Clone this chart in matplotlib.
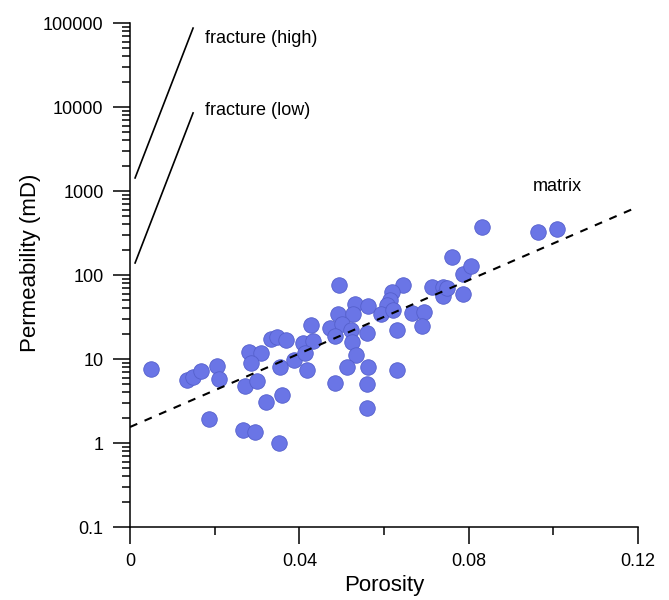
import matplotlib

matplotlib.use("Agg")
import matplotlib.pyplot as plt
from matplotlib.ticker import FixedLocator, LogLocator, NullFormatter

# porosity / permeability samples
porosity = [
    0.0050, 0.0135, 0.0149, 0.0168, 0.0206, 0.0210, 0.0187, 0.0272, 0.0300,
    0.0281, 0.0309, 0.0286, 0.0321, 0.0359, 0.0267, 0.0295, 0.0352, 0.0333,
    0.0347, 0.0369, 0.0354, 0.0387, 0.0409, 0.0432, 0.0428, 0.0413, 0.0418,
    0.0494, 0.0532, 0.0562, 0.0491, 0.0527, 0.0472, 0.0501, 0.0484, 0.0522,
    0.0560, 0.0524, 0.0534, 0.0513, 0.0562, 0.0484, 0.0560, 0.0560, 0.0631,
    0.0631, 0.0645, 0.0619, 0.0614, 0.0607, 0.0593, 0.0621, 0.0666, 0.0695,
    0.0690, 0.0713, 0.0739, 0.0739, 0.0787, 0.0787, 0.0832, 0.0964, 0.1009,
    0.0761, 0.0806, 0.0749,
]
permeability = [
    7.6, 5.6, 6.1, 7.2, 8.3, 5.8, 1.93, 4.8, 5.5,
    12.1, 11.8, 9.0, 3.1, 3.7, 1.43, 1.35, 1.0, 17.3,
    18.3, 16.8, 8.0, 9.7, 15.5, 16.4, 25.4, 11.8, 7.4,
    76, 45, 43, 34, 34, 23.4, 26.1, 18.8, 22.1,
    20.4, 15.9, 11.2, 8.0, 8.0, 5.2, 5.0, 2.6, 22.1,
    7.4, 76, 63, 50, 44, 34, 38, 35, 36,
    24.7, 72, 72, 56, 103, 59, 373, 325, 353,
    164, 128, 70,
]

# trend lines (end points)
matrix_phi = [0.0, 0.12]
matrix_k = [1.55, 650]
frac_high_phi = [0.0012, 0.0149]
frac_high_k = [1430, 87000]
frac_low_phi = [0.0012, 0.0149]
frac_low_k = [139, 8500]

x_ticks = [0, 0.04, 0.08, 0.12]
x_tick_labels = ["0", "0.04", "0.08", "0.12"]
y_ticks = [0.1, 1, 10, 100, 1000, 10000, 100000]
y_tick_labels = ["0.1", "1", "10", "100", "1000", "10000", "100000"]

plt.rcParams["font.family"] = ["Liberation Sans", "DejaVu Sans"]

fig = plt.figure(figsize=(6.69, 6.0), dpi=100)
ax = fig.add_axes([130 / 669, 73 / 600, 508 / 669, 504 / 600])

ax.plot(frac_high_phi, frac_high_k, color="black", lw=1.2)
ax.plot(frac_low_phi, frac_low_k, color="black", lw=1.2)
ax.plot(matrix_phi, matrix_k, color="black", lw=1.5, ls=(0, (3.8, 3.8)), zorder=3)

ax.scatter(
    porosity,
    permeability,
    s=125,
    color="#6a75e6",
    edgecolors="#5560cc",
    linewidths=0.6,
    zorder=2,
    clip_on=False,
)

ax.text(0.0177, 66000, "fracture (high)", fontsize=13, va="center", ha="left")
ax.text(0.0177, 9100, "fracture (low)", fontsize=13, va="center", ha="left")
ax.text(0.0952, 1117, "matrix", fontsize=13, va="center", ha="left")

ax.set_yscale("log")
ax.set_xlim(0, 0.12)
ax.set_ylim(0.1, 100000)

ax.xaxis.set_major_locator(FixedLocator(x_ticks))
ax.set_xticklabels(x_tick_labels)
ax.xaxis.set_minor_locator(FixedLocator([0.02, 0.06, 0.10]))
ax.yaxis.set_major_locator(FixedLocator(y_ticks))
ax.set_yticklabels(y_tick_labels)
ax.yaxis.set_minor_locator(LogLocator(base=10, subs=range(2, 10), numticks=20))
ax.yaxis.set_minor_formatter(NullFormatter())

for side in ["top", "right"]:
    ax.spines[side].set_visible(False)
for side in ["left", "bottom"]:
    ax.spines[side].set_linewidth(1.1)

ax.tick_params(which="major", direction="out", length=12, width=1.1, labelsize=13, pad=7)
ax.tick_params(which="minor", direction="out", length=6, width=1.1)

ax.set_xlabel("Porosity", fontsize=16)
ax.set_ylabel("Permeability (mD)", fontsize=16)
ax.xaxis.set_label_coords(0.5, -0.095)
ax.yaxis.set_label_coords(-0.175, 0.524)

fig.savefig("out.png", dpi=100)
